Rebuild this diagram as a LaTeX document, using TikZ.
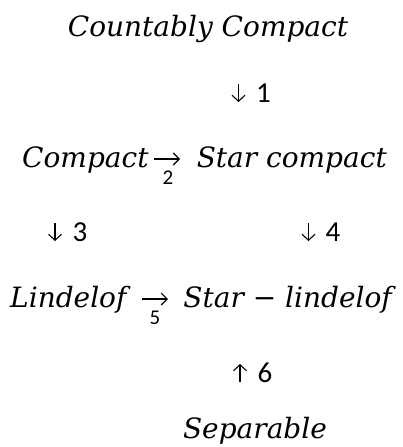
\documentclass[tikz,border=0pt]{standalone}
\usepackage{fontspec}
\usetikzlibrary{arrows.meta}
\setmainfont{DejaVu Serif}
\newfontfamily\digitfont{Carlito}
\begin{document}
\begin{tikzpicture}[x=1pt,y=-1pt,
  term/.style={inner sep=0pt,font=\fontsize{28}{30}\selectfont\itshape},
  lbl/.style={inner sep=0pt,font=\fontsize{29}{30}\selectfont\digitfont},
  sub/.style={inner sep=0pt,font=\fontsize{21}{22}\selectfont\digitfont},
  glyph/.style={line width=1.1pt,-{Straight Barb[length=6pt,width=13pt,line width=1.1pt]}},
  hglyph/.style={line width=1.1pt,-{Straight Barb[length=6pt,width=12pt,line width=1.1pt]}}]
\useasboundingbox (0,0) rectangle (403,447);
% row 1
\node[term,anchor=base] (cc) at (208,36) {Countably Compact};
\coordinate (a1s) at (238.5,84);
\coordinate (a1e) at (238.5,102);
\draw[glyph] (a1s) -- (a1e);
\node[lbl,anchor=base] (n1) at (263.5,102) {1};
% row 2
\node[term,anchor=base west] (c) at (22,167) {Compact};
\coordinate (a2s) at (154,159);
\coordinate (a2e) at (180,159);
\draw[hglyph] (a2s) -- (a2e);
\node[sub,anchor=base] (s2) at (168,184) {2};
\node[term,anchor=base east] (sc) at (387,167) {Star compact};
% row 3
\coordinate (a3s) at (55,223);
\coordinate (a3e) at (55,241);
\draw[glyph] (a3s) -- (a3e);
\node[lbl,anchor=base] (n3) at (80,241) {3};
\coordinate (a4s) at (308.5,223);
\coordinate (a4e) at (308.5,241);
\draw[glyph] (a4s) -- (a4e);
\node[lbl,anchor=base] (n4) at (333,241) {4};
% row 4
\node[term,anchor=base west] (l) at (10,307) {Lindelof};
\coordinate (a5s) at (142,299);
\coordinate (a5e) at (168,299);
\draw[hglyph] (a5s) -- (a5e);
\node[sub,anchor=base] (s5) at (155,324) {5};
\node[term,anchor=base east] (sl) at (392,307) {Star {\upshape−} lindelof};
% row 5
\coordinate (a6s) at (240,382);
\coordinate (a6e) at (240,364);
\draw[glyph] (a6s) -- (a6e);
\node[lbl,anchor=base] (n6) at (265,382) {6};
% row 6
\node[term,anchor=base] (sep) at (255,438) {Separable};
\end{tikzpicture}
\end{document}
